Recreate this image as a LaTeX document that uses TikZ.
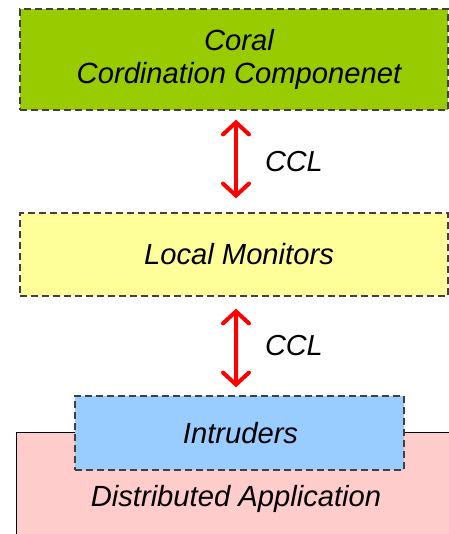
\documentclass[tikz,border=0pt]{standalone}
\usepackage{fontspec}
\setmainfont{Liberation Sans}
\usetikzlibrary{arrows.meta}
\definecolor{cgreen}{HTML}{99CC00}
\definecolor{cyellow}{HTML}{FFFF99}
\definecolor{cblue}{HTML}{99CCFF}
\definecolor{cpink}{HTML}{FFCCCC}
\definecolor{cdash}{HTML}{404040}
\tikzset{
  layer/.style={draw=cdash, line width=1.4bp, dash pattern=on 7bp off 4bp, inner sep=0pt},
  txt/.style={align=center, inner sep=0pt, font=\fontsize{29.3}{33}\selectfont\itshape},
  ccl/.style={draw=red, line width=4bp, line cap=round,
    {Straight Barb[length=12bp, width=26bp, line cap=round]}-{Straight Barb[length=12bp, width=26bp, line cap=round]}},
  lbl/.style={font=\fontsize{29}{33}\selectfont\itshape, anchor=west, inner sep=0pt}
}
\begin{document}
\begin{tikzpicture}[x=1bp,y=-1bp]
\useasboundingbox (0,0) rectangle (449,534);
\clip (0,0) rectangle (449,534);
% pink application
\fill[cpink] (16,432) rectangle (470,560);
\draw[black, line width=1bp] (16,560) -- (16,432) -- (470,432);
\node[txt] (app) at (236,499) {Distributed Application};
% boxes
\node[layer, fill=cgreen, minimum width=428bp, minimum height=101bp] (coral) at (234,59.5) {};
\node[txt] (coraltxt) at ([xshift=5bp]coral.center) {Coral\\Cordination Componenet};
\node[layer, fill=cyellow, minimum width=428bp, minimum height=83bp] (lm) at (234,254.5) {};
\node[txt] (lmtxt) at ([xshift=5bp]lm.center) {Local Monitors};
\node[layer, fill=cblue, minimum width=329bp, minimum height=74bp] (intr) at (239.5,433) {};
\node[txt] (intrtxt) at ([xshift=1bp]intr.center) {Intruders};
% arrows
\draw[ccl, shorten <=9bp, shorten >=14bp] ([xshift=2bp]coral.south) -- node[lbl, xshift=27bp] {CCL} ([xshift=2bp]lm.north);
\draw[ccl, shorten <=12bp, shorten >=8bp] ([xshift=2bp]lm.south) -- node[lbl, xshift=27bp] {CCL} ([xshift=-3.5bp]intr.north);
\end{tikzpicture}
\end{document}
